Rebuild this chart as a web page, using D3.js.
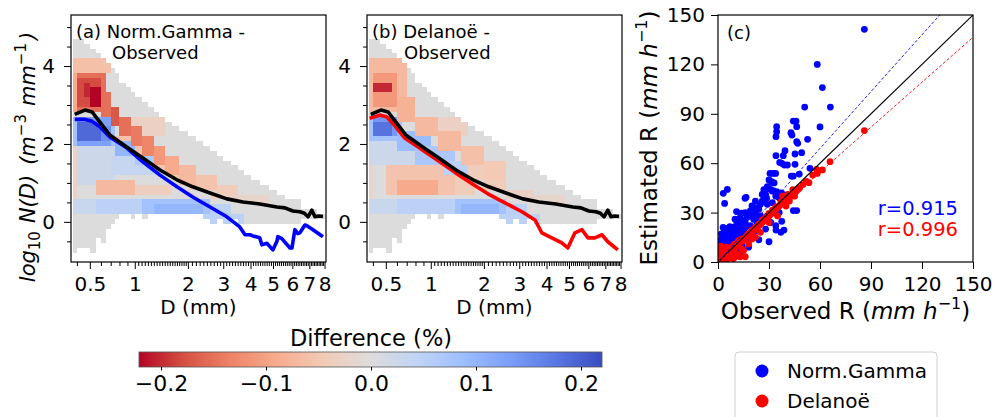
<!DOCTYPE html>
<html lang="en">
<head>
<meta charset="utf-8">
<script src="https://cdn.jsdelivr.net/npm/d3@7"></script>
<style>
  body { margin: 0; background: #fff; }
  svg { font-family: "DejaVu Sans", sans-serif; }
</style>
</head>
<body>
<svg id="chart" width="1006" height="417"></svg>
<script>
// ---- heatmap grid (D bins, log10 N bins) ----
const dEdges = [0.375,0.4,0.45,0.5,0.55,0.6,0.65,0.7,0.75,0.8,0.875,0.95,1.0,1.1,1.2,1.3,1.4,1.5,1.65,1.8,
  2.0,2.2,2.4,2.6,2.8,3.0,3.25,3.5,3.75,4.0,4.4,4.8,5.2,5.6,6.0,6.5,7.0,7.5,8.0];
const binH = 0.125;
// top / bottom edge of the filled cells in each D column
const colTop = [4.7,4.7,4.575,4.45,4.325,4.2,4.075,3.95,3.825,3.575,3.45,3.325,3.2,3.075,2.95,2.825,2.7,2.575,2.45,2.325,
  2.2,2.075,1.95,1.825,1.7,1.575,1.45,1.325,1.2,1.075,0.95,0.825,0.7,0.575,0.575,0.325,0.325,0.2];
const colBot = [-0.8,-0.675,-0.675,-0.8,-0.425,-0.55,-0.175,-0.05,0.075,0.2,0.2,0.075,0.2,0.075,0.2,0.2,0.2,0.2,0.2,0.2,
  0.2,0.2,0.075,-0.05,0.075,-0.05,0.075,-0.05,-0.05,-0.05,-0.05,-0.05,-0.05,-0.05,-0.05,0.075,0.075,0.075];

// difference patches [D0, D1, logN0, logN1, value], later ones win
const patchA = [
  [0.375,0.75,1.0,1.95,0.025],[0.375,0.4,0.45,1.9,-0.025],[0.7,1.6,1.15,1.7,0.035],[0.9,1.5,2.2,2.7,-0.03],
  [0.75,1.0,1.95,2.2,-0.055],[1.0,1.3,1.65,2.0,-0.055],[1.3,1.6,1.35,1.65,-0.05],[1.6,2.0,1.05,1.4,-0.045],
  [2.0,2.6,0.8,1.1,-0.04],[2.6,3.5,0.6,0.85,-0.03],[3.5,5.0,0.45,0.7,-0.02],
  [0.375,0.75,1.95,2.7,0.08],[0.4,0.7,2.0,2.7,0.13],[0.4,0.6,2.1,2.55,0.19],[0.6,0.7,2.1,2.45,0.15],
  [0.75,1.0,1.7,2.05,0.1],[1.0,1.3,1.45,1.75,0.07],
  [0.375,0.7,3.85,4.15,-0.06],[0.375,0.4,2.85,3.85,-0.09],[0.4,0.65,2.85,3.85,-0.15],[0.4,0.6,2.95,3.7,-0.18],
  [0.5,0.6,2.95,3.45,-0.22],[0.45,0.5,3.2,3.6,-0.2],
  [0.6,0.7,2.65,3.3,-0.15],[0.7,0.8,2.4,3.0,-0.17],[0.8,0.95,2.2,2.75,-0.15],[0.95,1.1,1.95,2.5,-0.14],
  [1.1,1.3,1.75,2.25,-0.13],[1.3,1.5,1.5,2.0,-0.11],[1.5,1.8,1.25,1.75,-0.09],[1.8,2.2,1.0,1.5,-0.07],
  [2.2,2.8,0.8,1.25,-0.055],[2.8,3.5,0.65,1.0,-0.04],
  [0.55,1.0,0.75,1.05,-0.07],[1.0,1.6,0.7,1.0,-0.035],
  [0.375,0.55,0.2,0.575,0.03],[0.55,1.1,0.2,0.575,0.05],[1.1,2.6,0.2,0.575,0.08],[1.3,2.4,0.2,0.45,0.1],
  [2.6,3.2,0.2,0.45,0.05],[2.4,3.75,-0.05,0.2,0.05]
];
const patchB = [
  [0.375,0.8,1.4,2.05,0.025],[0.375,0.4,0.45,1.4,-0.02],[0.9,1.6,2.2,2.7,-0.03],
  [1.6,2.0,1.05,1.4,-0.04],[2.0,2.6,0.8,1.1,-0.04],[2.6,3.5,0.6,0.85,-0.03],[3.5,5.0,0.45,0.7,-0.02],
  [0.5,1.4,0.7,1.45,-0.055],[0.6,1.1,0.75,1.1,-0.09],[1.4,1.8,0.75,1.2,-0.04],
  [0.375,0.65,2.05,2.75,0.08],[0.4,0.6,2.15,2.65,0.14],[0.4,0.55,2.25,2.55,0.18],
  [0.6,1.0,1.85,2.3,0.09],[0.8,1.4,1.5,1.95,0.07],[1.2,1.7,1.25,1.55,0.05],
  [0.375,0.7,2.85,4.15,-0.07],[0.4,0.6,3.0,3.85,-0.11],[0.425,0.55,3.35,3.6,-0.2],
  [0.6,0.8,2.55,3.15,-0.08],[0.8,1.1,2.2,2.75,-0.07],[1.1,1.5,1.85,2.35,-0.07],[1.5,2.0,1.45,1.95,-0.06],
  [2.0,2.6,1.1,1.55,-0.045],
  [0.375,0.6,0.2,0.575,0.03],[0.6,1.4,0.2,0.575,0.05],[1.4,2.7,0.2,0.575,0.08],[1.5,2.5,0.2,0.45,0.1],
  [2.7,3.2,0.2,0.45,0.05],[2.4,3.75,-0.05,0.2,0.05]
];

// ---- mean spectra ----
const obsD = [0.385,0.46,0.52,0.59,0.69,0.89,1.12,1.41,1.75,2.12,2.59,3.12,3.7,4.39,5.19,5.6,6.03,6.43,6.7,6.92,7.16,7.36,7.6,7.89];
const obsN = [2.76,2.87,2.82,2.56,2.23,1.92,1.64,1.33,1.08,0.9,0.74,0.59,0.51,0.46,0.38,0.36,0.28,0.26,0.22,0.13,0.3,0.13,0.15,0.14];
const ngD = [0.385,0.46,0.52,0.59,0.69,0.89,1.12,1.41,1.75,2.12,2.59,3.12,3.58,3.78,3.97,4.1,4.39,4.48,4.71,4.99,
  5.19,5.24,5.44,5.87,5.98,6.14,6.31,6.43,6.73,6.85,7.23,7.89];
const ngN = [2.63,2.63,2.58,2.44,2.18,1.9,1.54,1.2,0.9,0.64,0.38,0.13,-0.13,-0.33,-0.33,-0.36,-0.41,-0.59,-0.55,-0.72,
  -0.5,-0.38,-0.43,-0.67,-0.67,-0.2,-0.3,-0.28,-0.08,-0.1,-0.2,-0.38];
const dlD = [0.378,0.451,0.507,0.579,0.679,0.878,1.10,1.39,1.73,2.10,2.56,3.09,3.55,3.81,4.22,4.66,4.94,5.29,5.65,5.98,6.37,6.79,7.16,7.81];
const dlN = [2.66,2.74,2.7,2.47,2.15,1.86,1.58,1.27,0.98,0.72,0.49,0.26,0.05,-0.28,-0.41,-0.54,-0.67,-0.28,-0.2,-0.41,-0.41,-0.33,-0.51,-0.72];

// ---- rain rate scatter [observed, estimated] ----
const ngR = [[0.5,1],[1,2.5],[1.2,5],[1.5,3.5],[2,7],[2.2,9],[2.5,11],[1,12],[2,14],[3,16],[3.5,17.5],[4.2,16],[2,17],[0.8,6],
  [3,4],[4,7],[5,10],[5,13],[6,15],[6,17.5],[7,16],[4.5,2],[3,1.5],[1.5,8],[0.5,4],
  [7,9],[8,12],[9,14],[10,16],[11,18],[12,20],[9,21],[11,23],[13,24],[14,22],[15,25],[10,5],[12,7],[13,5.5],[14,10],[8,4],
  [11,11.5],[12,14.5],[14,17],[15,19.5],[16,21],[7,21.5],[6,20.5],[3,21],[10,26],[13,27],[9,18],
  [16,24],[17,27],[18,29],[19,31],[20,28],[21,26],[22,30],[23,33],[24,32],[25,35],[18,9],[20,16],[22,19],[24,13.5],[23,24],
  [19,22],[21,33],[17,14],[25,28],[24,27],[16,30],[20,34],[22,37],
  [26,37],[27,42],[28,41],[29,35],[30,45],[31,44],[32,43],[33,48],[34,40],[35,33],[36,30],[37,18],[30,12.3],[29,28],[31,24],
  [34,22],[35,42],[36,39],[37,42],[38,39],[32,36],[28,20],[33,30],[27,44],[26,41],
  [3.1,41.7],[5.5,44.1],[3.9,35.6],[16.5,39.3],[30,49.8],[31.6,48.8],[29,45.7],[27.6,43.7],[32.5,43.3],[26.7,40.7],[28.6,38.7],
  [34.5,42.7],[37.5,41.7],[38.4,38.7],[32.5,53.8],[30.6,53.8],[33.9,53.8],[36.3,60.5],[39,58.9],[34.1,64.6],[38.4,64.6],
  [39.4,67.6],[45.3,65.6],[49.2,66.4],[45.3,59.3],[43.1,52.2],[44.3,52.2],[47.8,53.4],[54.1,56.9],[46.3,73.1],[46.9,72.1],
  [52.7,74.5],[42.9,78.5],[43.5,77.1],[44.3,85.6],[45.9,85.6],[46.3,82.2],[34.5,82.2],[34.5,79.1],[34.1,76.1],[60,82],
  [51,94.1],[66.1,94.1],[61.4,105.9],[58.4,120],[86.1,141.3],[44.3,31.2],[46.3,31.2],[37.5,24.7],[38.8,19.4],[34.1,19.4],
  [40.8,58.9],[37.5,59.9],[15.9,38.7],[10.9,30.6],[13.8,29.6],[18.4,29.2]];
const dlR = [[0.5,0.5],[1,1.2],[1.5,2],[2,1.5],[2.5,3],[3,2.5],[3,4],[4,3.5],[4,5],[5,4.2],[5,6],[6,5.5],[6,7],[7,6.2],[7,8],
  [8,7.2],[8,9],[9,8],[9,10],[10,9],[10,11],[11,10],[12,11],[12,13],[13,12],[14,12.5],[14,14],[15,13.5],[16,15],[16,14],
  [17,16],[18,17],[18,16],[19,18],[20,18],[20,19.5],[21,19],[22,21],[22,20],[23,21.5],[24,22],[24,23],[25,23],[26,24],
  [26,25.5],[27,25],[28,26],[28,27],[29,27],[30,28],[30,29.5],[31,29],[32,30],[32,31.5],[33,31],[34,32],[34,33.5],[35,33],
  [36,34],[37,35],[37,36.5],[38,36],[39,37],[40,38],[41,38.5],[42,40],[43,40],[44,42],[45,42],[46,43],[47,44],[48,45],
  [50,47],[52,49],[53.5,48.2],[55.7,52.8],[58,56.3],[58.4,53.8],[61.4,55.9],[65.9,60.9],[86.1,79.8],
  [10,3],[12,4],[13,3.2],[16,3.2],[9,2],[11,5],[15,7],[18,11],[20,14],[6,2],[8,3],[14,8],[25,18],[30,24],[35,28],[40,34],
  [42,37],[45,40],[22,15],[4,1],[7,3],
  [1.6,9.7],[2,8],[1,6],[3,7.5],[5,9],[41,41],[44,44],[38,40],[0.5,3],[1.5,4.5]];
const fitNG = [1.15, 0];   // slope, intercept
const fitDL = [0.91, 0];
const rLabels = ['r=0.915', 'r=0.996'];

const dMajor = [0.5,1,2,3,4,5,6,7,8];
const nMajor = [0,2,4];
const nMinor = [-0.5,0.5,1,1.5,2.5,3,3.5,4.5,5];
const rTicks = [0,30,60,90,120,150];
const cbTicks = [-0.2,-0.1,0,0.1,0.2];
const coolwarm = ['#3b4cc0','#5977e3','#7b9ff9','#9ebeff','#c0d4f5','#dddcdc','#f2cbb7','#f7ac8e','#ee8468','#d65244','#b40426'];

// ---------------------------------------------------------------
const svg = d3.select('#chart');
const FONT = '"DejaVu Sans", sans-serif';
const yTop = 15, yBot = 262, W = 255;
const cwInterp = d3.piecewise(d3.interpolateRgb, coolwarm);
const diffColor = v => cwInterp(Math.max(0, Math.min(1, 1 - (v + 0.22) / 0.44)));

const dMinor = [];
d3.range(4, 10).forEach(i => dMinor.push(i / 10));
d3.range(21, 40).forEach(i => dMinor.push(i / 20));
d3.range(21, 81).forEach(i => dMinor.push(i / 10));
const dMinorF = dMinor.filter(d => !dMajor.includes(d));
const defs = svg.append('defs');

function cellValue(patches, d, v) {
  let val = 0;
  patches.forEach(p => { if (d >= p[0] && d < p[1] && v >= p[2] && v < p[3]) val = p[4]; });
  return val;
}

function drawDSD(x0, patches, modelD, modelN, modelColor, title1, title2, t2x) {
  const x = d3.scalePow().exponent(0.24).domain([0.36, 8.1]).range([x0, x0 + W]);
  const y = d3.scaleLinear().domain([-1.03, 5.31]).range([yBot, yTop]);
  const g = svg.append('g');

  const cells = [];
  for (let i = 0; i < dEdges.length - 1; i++) {
    const dc = (dEdges[i] + dEdges[i + 1]) / 2;
    for (let b = colBot[i]; b < colTop[i] - 0.01; b += binH) {
      cells.push({d0: dEdges[i], d1: dEdges[i + 1], v0: b, v1: b + binH, val: cellValue(patches, dc, b + binH / 2)});
    }
  }
  g.append('g').attr('shape-rendering', 'crispEdges')
    .selectAll('rect').data(cells).join('rect')
    .attr('x', c => x(c.d0)).attr('width', c => x(c.d1) - x(c.d0))
    .attr('y', c => y(c.v1)).attr('height', c => y(c.v0) - y(c.v1))
    .attr('fill', c => diffColor(c.val));

  const line = d3.line().x(d => x(d[0])).y(d => y(d[1]));
  g.append('path').datum(modelD.map((d, i) => [d, modelN[i]]))
    .attr('d', line).attr('fill', 'none').attr('stroke', modelColor)
    .attr('stroke-width', 3.6).attr('stroke-linejoin', 'round');
  g.append('path').datum(obsD.map((d, i) => [d, obsN[i]]))
    .attr('d', line).attr('fill', 'none').attr('stroke', '#000')
    .attr('stroke-width', 3.6).attr('stroke-linejoin', 'round');

  // axes
  g.append('g').attr('transform', `translate(0,${yBot})`)
    .call(d3.axisBottom(x).tickValues(dMajor).tickSize(7).tickPadding(8).tickFormat(d3.format('')));
  g.append('g').attr('transform', `translate(0,${yBot})`)
    .call(d3.axisBottom(x).tickValues(dMinorF).tickSize(4).tickFormat(''));
  g.append('g').attr('transform', `translate(${x0},0)`)
    .call(d3.axisLeft(y).tickValues(nMajor).tickSize(7).tickPadding(9).tickFormat(d3.format('')));
  g.append('g').attr('transform', `translate(${x0},0)`)
    .call(d3.axisLeft(y).tickValues(nMinor).tickSize(4).tickFormat(''));
  g.selectAll('.domain').remove();
  g.selectAll('.tick text').attr('font-size', 20).attr('font-family', FONT).attr('fill', '#000');
  g.selectAll('.tick line').attr('stroke', '#000').attr('stroke-width', 1);

  g.append('rect').attr('x', x0).attr('y', yTop).attr('width', W).attr('height', yBot - yTop)
    .attr('fill', 'none').attr('stroke', '#000').attr('stroke-width', 1.2);

  g.append('text').attr('x', x0 + 5).attr('y', 38).attr('font-size', 18).text(title1);
  g.append('text').attr('x', x0 + t2x).attr('y', 59).attr('font-size', 18).text(title2);
  g.append('text').attr('x', x0 + W / 2).attr('y', 314).attr('font-size', 20)
    .attr('text-anchor', 'middle').text('D (mm)');
  return g;
}

drawDSD(71, patchA, ngD, ngN, '#0000ff', '(a) Norm.Gamma -', 'Observed', 41);
drawDSD(367, patchB, dlD, dlN, '#ff0000', '(b) Delanoë -', 'Observed', 37);

// y label for the DSD panels
const yl = svg.append('text').attr('transform', 'translate(35,157) rotate(-90)')
  .attr('text-anchor', 'middle').attr('font-size', 21).attr('font-style', 'italic');
yl.append('tspan').text('log');
yl.append('tspan').attr('dy', 5).attr('font-size', 15).attr('font-style', 'normal').text('10');
yl.append('tspan').attr('dy', -5).attr('dx', 8).text('N(D)');
yl.append('tspan').attr('dx', 10).text('(m');
yl.append('tspan').attr('dy', -9).attr('font-size', 15).attr('font-style', 'normal').text('\u22123');
yl.append('tspan').attr('dy', 9).attr('dx', 8).text('mm');
yl.append('tspan').attr('dy', -9).attr('font-size', 15).attr('font-style', 'normal').text('\u22121');
yl.append('tspan').attr('dy', 9).attr('dx', 3).text(')');

// ---- panel c ----
const cx0 = 718;
const xr = d3.scaleLinear().domain([0, 150]).range([cx0, cx0 + W]);
const yr = d3.scaleLinear().domain([0, 150]).range([yBot, yTop]);
const gc = svg.append('g');
defs.append('clipPath').attr('id', 'clipc')
  .append('rect').attr('x', cx0).attr('y', yTop).attr('width', W).attr('height', yBot - yTop);

const pts = gc.append('g').attr('clip-path', 'url(#clipc)');
pts.selectAll('circle.ng').data(ngR).join('circle').attr('class', 'ng')
  .attr('cx', d => xr(d[0])).attr('cy', d => yr(d[1])).attr('r', 3.4).attr('fill', '#0000ff');
pts.selectAll('circle.dl').data(dlR).join('circle').attr('class', 'dl')
  .attr('cx', d => xr(d[0])).attr('cy', d => yr(d[1])).attr('r', 3.4).attr('fill', '#ff0000');
pts.append('line').attr('x1', xr(0)).attr('y1', yr(0)).attr('x2', xr(150)).attr('y2', yr(150))
  .attr('stroke', '#000').attr('stroke-width', 1.1);
[[fitNG, '#0000ff'], [fitDL, '#ff0000']].forEach(([f, col]) => {
  pts.append('line').attr('x1', xr(0)).attr('y1', yr(f[1])).attr('x2', xr(150)).attr('y2', yr(f[0] * 150 + f[1]))
    .attr('stroke', col).attr('stroke-width', 0.9).attr('stroke-dasharray', '3,2');
});

gc.append('g').attr('transform', `translate(0,${yBot})`)
  .call(d3.axisBottom(xr).tickValues(rTicks).tickSize(7).tickPadding(8));
gc.append('g').attr('transform', `translate(${cx0},0)`)
  .call(d3.axisLeft(yr).tickValues(rTicks).tickSize(7).tickPadding(6));
gc.selectAll('.domain').remove();
gc.selectAll('.tick text').attr('font-size', 20).attr('font-family', FONT).attr('fill', '#000');
gc.selectAll('.tick line').attr('stroke', '#000');
gc.append('rect').attr('x', cx0).attr('y', yTop).attr('width', W).attr('height', yBot - yTop)
  .attr('fill', 'none').attr('stroke', '#000').attr('stroke-width', 1.2);
gc.append('text').attr('x', 727).attr('y', 39).attr('font-size', 18).text('(c)');
gc.append('text').attr('x', 958).attr('y', 215).attr('font-size', 19.5).attr('text-anchor', 'end')
  .attr('fill', '#0000ff').text(rLabels[0]);
gc.append('text').attr('x', 958).attr('y', 236).attr('font-size', 19.5).attr('text-anchor', 'end')
  .attr('fill', '#ff0000').text(rLabels[1]);

const xl = gc.append('text').attr('x', cx0 + W / 2).attr('y', 319).attr('font-size', 23).attr('text-anchor', 'middle');
xl.append('tspan').text('Observed R (');
xl.append('tspan').attr('font-style', 'italic').text('mm h');
xl.append('tspan').attr('dy', -10).attr('font-size', 16).text('\u22121');
xl.append('tspan').attr('dy', 10).text(')');

const ylc = gc.append('text').attr('transform', 'translate(657,138) rotate(-90)').attr('font-size', 23).attr('text-anchor', 'middle');
ylc.append('tspan').text('Estimated R (');
ylc.append('tspan').attr('font-style', 'italic').text('mm h');
ylc.append('tspan').attr('dy', -10).attr('font-size', 16).text('\u22121');
ylc.append('tspan').attr('dy', 10).text(')');

// ---- colorbar ----
const cb = d3.scaleLinear().domain([-0.221, 0.22]).range([139, 602]);
const grad = defs.append('linearGradient').attr('id', 'cbgrad');
coolwarm.slice().reverse().forEach((c, i) => {
  grad.append('stop').attr('offset', (i / 10 * 100) + '%').attr('stop-color', c);
});
svg.append('rect').attr('x', 139).attr('y', 352).attr('width', 463).attr('height', 15)
  .attr('fill', 'url(#cbgrad)').attr('stroke', '#555').attr('stroke-width', 0.8);
const cbAxis = svg.append('g').attr('transform', 'translate(0,367)')
  .call(d3.axisBottom(cb).tickValues(cbTicks).tickSize(3.5).tickPadding(4.5)
    .tickFormat(d => d3.format('.1f')(d).replace('-', '\u2212')));
cbAxis.select('.domain').remove();
cbAxis.selectAll('.tick text').attr('font-size', 22).attr('font-family', FONT).attr('fill', '#000');
cbAxis.selectAll('.tick line').attr('stroke', '#000');
svg.append('text').attr('x', 371).attr('y', 346).attr('font-size', 22.5).attr('text-anchor', 'middle').text('Difference (%)');

// ---- legend ----
const lg = svg.append('g');
lg.append('rect').attr('x', 735).attr('y', 352).attr('width', 202).attr('height', 80).attr('rx', 4)
  .attr('fill', '#fff').attr('stroke', '#d0d0d0').attr('stroke-width', 1);
[['Norm.Gamma', '#0000ff', 371], ['Delanoë', '#ff0000', 401]].forEach(([t, c, yy]) => {
  lg.append('circle').attr('cx', 762).attr('cy', yy).attr('r', 6.5).attr('fill', c);
  lg.append('text').attr('x', 787).attr('y', yy).attr('dy', '0.35em').attr('font-size', 20).text(t);
});
</script>
</body>
</html>
